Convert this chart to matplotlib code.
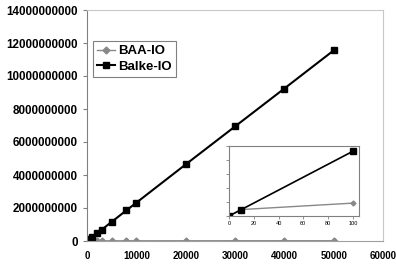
import numpy as np
import matplotlib
matplotlib.use('Agg')
import matplotlib.pyplot as plt

plt.rcParams['font.family'] = ['Liberation Sans', 'DejaVu Sans']

# main chart data
balke_x = [0, 100, 200, 500, 1000, 2000, 3000, 5000, 8000, 10000, 20000, 30000, 40000, 50000]
balke_y = [0, 2.3e7, 4.6e7, 1.15e8, 2.3e8, 4.7e8, 6.9e8, 1.16e9, 1.86e9, 2.32e9, 4.64e9, 6.94e9, 9.24e9, 1.155e10]
baa_x = [0, 100, 500, 1000, 2000, 3000, 5000, 8000, 10000, 20000, 30000, 40000, 50000]
baa_y = [0, 4.6e6, 6e6, 7e6, 8e6, 9e6, 1e7, 1.1e7, 1.2e7, 1.3e7, 1.4e7, 1.5e7, 1.6e7]

# inset data (0..100)
ins_x = [0, 10, 100]
ins_balke = [0, 2.3e6, 23.1e6]
ins_baa = [0, 2.3e6, 4.6e6]

fig = plt.figure(figsize=(3.96, 2.65), dpi=100)
ax = fig.add_axes([87/396, 1-241/265, (383-87)/396, (241-10)/265])

ax.plot(baa_x, baa_y, color='#888888', marker='D', markersize=3.5, lw=1.0, label='BAA-IO')
ax.plot(balke_x, balke_y, color='black', marker='s', markersize=5, lw=1.5, label='Balke-IO')
ax.set_xlim(0, 60000)
ax.set_ylim(0, 14e9)
ax.set_xticks(np.arange(0, 60001, 10000))
ax.set_yticks(np.arange(0, 14e9 + 1, 2e9))
ax.set_yticklabels(['%d' % v for v in np.arange(0, 14e9 + 1, 2e9)])
ax.tick_params(axis='y', labelsize=8.4, length=3, width=0.8, color='#808080')
ax.tick_params(axis='x', labelsize=7, length=0, pad=7)
for lab in ax.get_xticklabels() + ax.get_yticklabels():
    lab.set_fontweight('bold')
ax.spines['left'].set_color('#808080')
ax.spines['bottom'].set_color('#a0a0a0')
ax.spines['top'].set_color('#c8c8c8')
ax.spines['right'].set_color('#c8c8c8')

leg = ax.legend(loc='upper left', bbox_to_anchor=(0.02, 0.865), prop={'weight': 'bold', 'size': 9.5},
                fancybox=False, framealpha=1, edgecolor='#808080', handlelength=1.4,
                handletextpad=0.2, borderpad=0.3, labelspacing=0.25, borderaxespad=0)
leg.get_frame().set_linewidth(0.8)

# inset
ins = fig.add_axes([229/396, 1-216/265, 130/396, 70/265])
ins.plot(ins_x, ins_baa, color='#888888', marker='D', markersize=2.5, lw=1.0)
ins.plot(ins_x, ins_balke, color='black', marker='s', markersize=4, lw=1.2)
ins.set_xlim(0, 105)
ins.set_ylim(0, 25e6)
ins.set_xticks(np.arange(0, 101, 20))
ins.set_yticks(np.arange(0, 25e6 + 1, 5e6))
ins.set_yticklabels([])
ins.tick_params(axis='both', labelsize=4, length=2, width=0.6, color='#808080', pad=1.5)
for sp in ins.spines.values():
    sp.set_color('#808080')
    sp.set_linewidth(0.8)

fig.savefig('out.png', dpi=100)
